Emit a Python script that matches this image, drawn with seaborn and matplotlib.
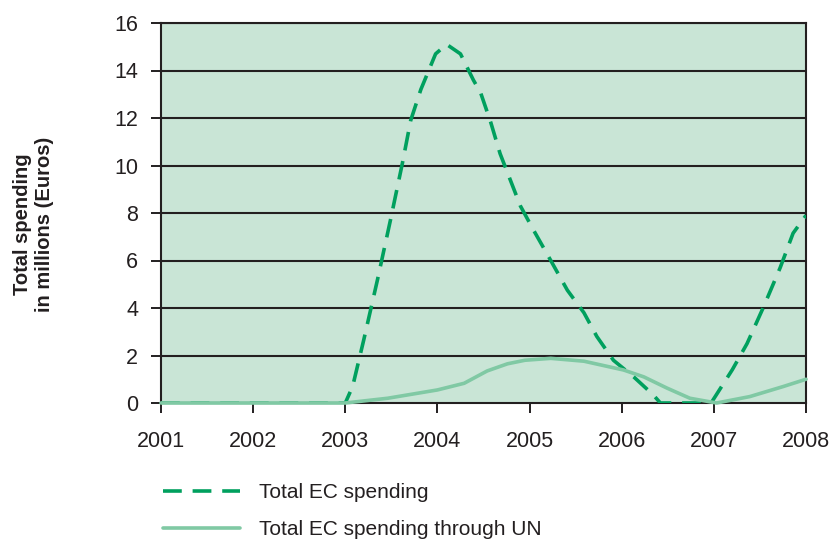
import numpy as np
import pandas as pd
import matplotlib
matplotlib.use("Agg")
import matplotlib.pyplot as plt
import seaborn as sns
from matplotlib.lines import Line2D

# values (year, millions of euros)
ec_years = [2001.0, 2002.0, 2003.0, 2003.08, 2003.2, 2003.35, 2003.49, 2003.62, 2003.71,
            2003.82, 2003.98, 2004.1, 2004.25, 2004.39, 2004.47, 2004.58, 2004.68,
            2004.79, 2004.9, 2005.04, 2005.23, 2005.41, 2005.59, 2005.73, 2005.91,
            2006.13, 2006.34, 2006.42, 2006.7, 2006.97, 2007.2, 2007.36, 2007.54,
            2007.72, 2007.86, 2008.0]
ec_total = [0.0, 0.0, 0.0, 0.7, 2.65, 5.2, 7.7, 10.1, 11.9,
            13.2, 14.7, 15.1, 14.7, 13.6, 13.05, 11.8, 10.5,
            9.4, 8.3, 7.3, 6.0, 4.75, 3.8, 2.8, 1.8,
            1.1, 0.35, 0.0, 0.0, 0.0, 1.4, 2.5, 4.05,
            5.7, 7.15, 7.9]

un_years = [2001.0, 2002.0, 2003.0, 2003.46, 2004.0, 2004.29, 2004.54, 2004.76, 2004.95,
            2005.23, 2005.59, 2006.02, 2006.24, 2006.49, 2006.74, 2007.03, 2007.39,
            2007.75, 2008.0]
un_total = [0.0, 0.0, 0.0, 0.2, 0.55, 0.83, 1.35, 1.65, 1.8,
            1.88, 1.76, 1.39, 1.1, 0.63, 0.2, 0.0, 0.27,
            0.69, 1.0]

year_ticks = [2001, 2002, 2003, 2004, 2005, 2006, 2007, 2008]
value_ticks = [0, 2, 4, 6, 8, 10, 12, 14, 16]

series_names = ["Total EC spending", "Total EC spending through UN"]

dark_green = "#00a05e"
light_green = "#80c9a4"
panel_bg = "#c9e5d6"
ink = "#231f20"
dash_style = (0, (5.2, 3.0))

sns.set_style("white")
plt.rcParams["font.family"] = ["Liberation Sans", "DejaVu Sans"]

fig = plt.figure(figsize=(8.33, 5.39), dpi=100)
ax = fig.add_axes([161 / 833, 1 - 403 / 539, (806 - 161) / 833, (403 - 23) / 539])
ax.set_facecolor(panel_bg)

ec_df = pd.DataFrame({"year": ec_years, "value": ec_total})
un_df = pd.DataFrame({"year": un_years, "value": un_total})

sns.lineplot(data=ec_df, x="year", y="value", ax=ax, color=dark_green,
             linewidth=2.6, linestyle=dash_style, zorder=3)
sns.lineplot(data=un_df, x="year", y="value", ax=ax, color=light_green,
             linewidth=2.6, zorder=4, clip_on=False)

ax.set_xlim(2001, 2008)
ax.set_ylim(0, 16)
ax.set_xticks(year_ticks)
ax.set_xticklabels([str(y) for y in year_ticks])
ax.set_yticks(value_ticks)
ax.set_yticklabels([str(v) for v in value_ticks])

for v in value_ticks[1:]:
    ax.axhline(v, color=ink, linewidth=1.5, zorder=2)

for side in ["left", "right", "top", "bottom"]:
    ax.spines[side].set_color(ink)
    ax.spines[side].set_linewidth(1.5)

ax.tick_params(axis="both", direction="out", bottom=True, left=True,
               length=7.5, width=1.4, color=ink,
               labelsize=15.5, labelcolor=ink)
ax.tick_params(axis="x", pad=12.5)
ax.tick_params(axis="y", pad=9)

ax.set_xlabel("")
ax.set_ylabel("")
fig.text(34 / 833, 1 - 224 / 539, "Total spending\nin millions (Euros)", rotation=90,
         ha="center", va="center", fontsize=14.5, fontweight="bold",
         color=ink, linespacing=1.2)

handles = [Line2D([], [], color=dark_green, linewidth=2.6, linestyle=dash_style),
           Line2D([], [], color=light_green, linewidth=2.6)]
fig.legend(handles, series_names, loc="upper left",
           bbox_to_anchor=(163 / 833, 1 - 483 / 539), frameon=False,
           borderpad=0, borderaxespad=0,
           handlelength=3.7, handletextpad=0.9, labelspacing=0.88,
           fontsize=15, labelcolor=ink)

fig.savefig("out.png", dpi=100)
